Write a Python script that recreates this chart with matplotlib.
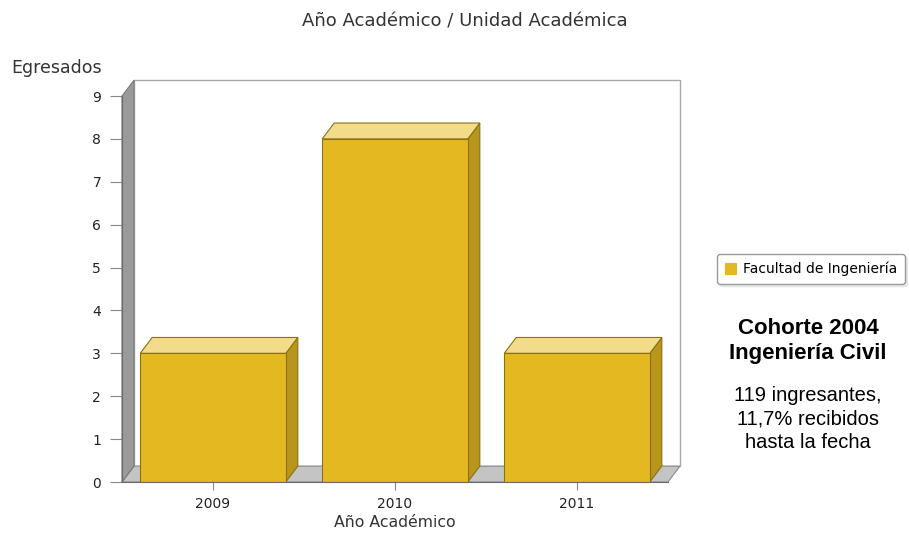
import matplotlib.pyplot as plt
from matplotlib.patches import Polygon, Rectangle

years = ['2009', '2010', '2011']
egresados = [3, 8, 3]
serie = 'Facultad de Ingeniería'

W, H = 909, 538
fig = plt.figure(figsize=(W / 100, H / 100), dpi=100)
ax = fig.add_axes([122 / W, 56 / H, 546 / W, 386 / H])
ax.set_xlim(-0.5, 2.5)
ax.set_ylim(0, 9)

# depth of the pseudo-3d box, in data units
dx, dy = 0.066, 0.37
x0, x1 = -0.5, 2.5
gold, gold_top, gold_side, gold_edge = '#E3B821', '#F2DC8C', '#B8961C', '#8C7012'

# back wall, floor, left wall
ax.add_patch(Rectangle((x0 + dx, dy), x1 - x0, 9, facecolor='white',
                       edgecolor='#A8A8A8', lw=1, clip_on=False, zorder=1))
ax.add_patch(Polygon([(x0, 0), (x1, 0), (x1 + dx, dy), (x0 + dx, dy)],
                     closed=True, facecolor='#C4C4C4', edgecolor='#8A8A8A',
                     lw=0.8, clip_on=False, zorder=2))
ax.add_patch(Polygon([(x0, 0), (x0, 9), (x0 + dx, 9 + dy), (x0 + dx, dy)],
                     closed=True, facecolor='#9A9A9A', edgecolor='#7A7A7A',
                     lw=0.8, clip_on=False, zorder=2))

pos = list(range(len(years)))
bw = 0.8
for x, v in zip(pos, egresados):
    l, r = x - bw / 2, x + bw / 2
    ax.add_patch(Polygon([(r, 0), (r, v), (r + dx, v + dy), (r + dx, dy)],
                         closed=True, facecolor=gold_side, edgecolor=gold_edge,
                         lw=0.8, clip_on=False, zorder=3))
    ax.add_patch(Polygon([(l, v), (r, v), (r + dx, v + dy), (l + dx, v + dy)],
                         closed=True, facecolor=gold_top, edgecolor=gold_edge,
                         lw=0.8, clip_on=False, zorder=3))
ax.bar(pos, egresados, width=bw, color=gold, edgecolor=gold_edge, lw=0.8,
       zorder=4, label=serie)

for s in ['top', 'right']:
    ax.spines[s].set_visible(False)
for s in ['left', 'bottom']:
    ax.spines[s].set_color('#6A6A6A')
    ax.spines[s].set_zorder(5)

ax.set_yticks(range(10))
ax.set_xticks(pos)
ax.set_xticklabels(years)
ax.tick_params(axis='y', length=9, color='#888888', labelsize=10, pad=6,
               labelcolor='#222222')
ax.tick_params(axis='x', length=6, color='#888888', labelsize=10, pad=5,
               labelcolor='#222222')
ax.set_xlabel('Año Académico', fontsize=11.3, color='#333333', labelpad=3)
ax.set_facecolor('none')

fig.text(465 / W, 1 - 22 / H, 'Año Académico / Unidad Académica',
         ha='center', va='center', fontsize=13, color='#333333')
fig.text(11 / W, 1 - 68 / H, 'Egresados', ha='left', va='center',
         fontsize=12.5, color='#333333')

leg = fig.legend(loc='center left', bbox_to_anchor=(717 / W, 1 - 269 / H),
                 fontsize=10, fancybox=True, shadow={'color': '#D8D8D8'},
                 handlelength=0.8, handleheight=0.8, handletextpad=0.5,
                 borderpad=0.55, borderaxespad=0, edgecolor='#999999',
                 framealpha=1)
leg.legend_handles[0].set_edgecolor(gold)

fig.text(808 / W, 1 - 341 / H, 'Cohorte 2004\nIngeniería Civil', ha='center',
         va='center', fontsize=16, fontweight='bold', family='Liberation Sans',
         linespacing=1.3)
fig.text(808 / W, 1 - 419 / H, '119 ingresantes,\n11,7% recibidos\nhasta la fecha',
         ha='center', va='center', fontsize=14.5, family='Liberation Sans',
         linespacing=1.3)

fig.savefig('out.png', dpi=100)
